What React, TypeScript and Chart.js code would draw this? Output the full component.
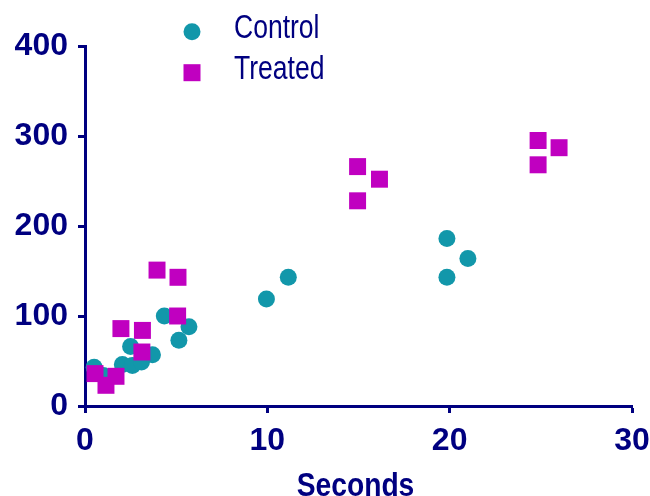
import React, { useEffect, useRef } from "react";
import { Chart, registerables } from "chart.js";

Chart.register(...registerables);

// ---- Data ----
const seriesNames = ["Control", "Treated"];

const controlX = [0.5, 1.0, 2.05, 2.5, 2.6, 3.1, 3.7, 4.35, 5.15, 5.7, 9.95, 11.15, 19.85, 19.85, 21.0];
const controlY = [43, 34, 46, 66, 45, 49, 57, 100, 73, 88, 119, 143, 186, 143, 164];

const treatedX = [0.55, 1.15, 1.7, 1.97, 3.15, 3.12, 3.95, 5.1, 5.08, 14.95, 16.15, 14.95, 24.85, 26.0, 24.85];
const treatedY = [36, 23, 33, 86, 84, 60, 151, 143, 100, 266, 252, 228, 295, 287, 268];

const xTicks = [0, 10, 20, 30];
const yTicks = [0, 100, 200, 300, 400];
const xTitle = "Seconds";

// ---- Styles ----
const NAVY = "#000080";
const TEAL = "#1297AA";
const MAGENTA = "#C000C0";
const SANS = "'Liberation Sans', Arial, sans-serif";

// Legend inside the plot + condensed x-axis title, both drawn as canvas text
const insetText = {
  id: "insetText",
  afterDatasetsDraw(chart: any) {
    const ctx = chart.ctx as CanvasRenderingContext2D;
    const markerX = 192;
    const markerY = [31.7, 72.7];
    const textX = 234;
    const textBase = [38.3, 79];
    ctx.save();
    chart.data.datasets.forEach((ds: any, i: number) => {
      ctx.fillStyle = ds.backgroundColor;
      if (ds.pointStyle === "rect") {
        ctx.fillRect(markerX - 8.5, markerY[i] - 8.5, 17, 17);
      } else {
        ctx.beginPath();
        ctx.arc(markerX, markerY[i], 8.5, 0, Math.PI * 2);
        ctx.fill();
      }
      ctx.save();
      ctx.translate(textX, textBase[i]);
      ctx.scale(0.78, 1);
      ctx.fillStyle = NAVY;
      ctx.font = `normal 34px ${SANS}`;
      ctx.textAlign = "left";
      ctx.textBaseline = "alphabetic";
      ctx.fillText(ds.label, 0, 0);
      ctx.restore();
    });

    // axis title
    const area = chart.chartArea;
    ctx.save();
    ctx.translate((area.left + area.right) / 2 - 3, 495.5);
    ctx.scale(0.83, 1);
    ctx.fillStyle = NAVY;
    ctx.font = `bold 34px ${SANS}`;
    ctx.textAlign = "center";
    ctx.textBaseline = "alphabetic";
    ctx.fillText(xTitle, 0, 0);
    ctx.restore();

    ctx.restore();
  },
};

export default function App() {
  const ref = useRef<HTMLCanvasElement | null>(null);

  useEffect(() => {
    if (!ref.current) return;
    const chart = new Chart(ref.current, {
      type: "scatter",
      data: {
        datasets: [
          {
            label: seriesNames[0],
            data: controlX.map((x, i) => ({ x, y: controlY[i] })),
            backgroundColor: TEAL,
            borderWidth: 0,
            pointStyle: "circle",
            pointRadius: 8.5,
            order: 2,
          },
          {
            label: seriesNames[1],
            data: treatedX.map((x, i) => ({ x, y: treatedY[i] })),
            backgroundColor: MAGENTA,
            borderWidth: 0,
            pointStyle: "rect",
            pointRadius: 12,
            order: 1,
          },
        ],
      },
      options: {
        animation: false,
        responsive: false,
        maintainAspectRatio: false,
        events: [],
        layout: { padding: { top: 46, right: 0, left: 0, bottom: 0 } },
        plugins: {
          legend: { display: false },
          tooltip: { enabled: false },
        },
        scales: {
          x: {
            type: "linear",
            min: 0,
            max: 30,
            afterFit: (s: any) => {
              s.height = 90;
              s.paddingLeft = 0;
              s.paddingRight = 18;
            },
            afterBuildTicks: (s: any) => {
              s.ticks = xTicks.map((v) => ({ value: v }));
            },
            ticks: {
              color: NAVY,
              font: { family: SANS, size: 32, weight: "bold", lineHeight: 1 },
              padding: 12,
              maxRotation: 0,
            },
            grid: {
              display: true,
              drawOnChartArea: false,
              drawTicks: true,
              tickLength: 7,
              tickWidth: 3,
              tickColor: NAVY,
            },
            border: { display: true, color: NAVY, width: 3 },
          },
          y: {
            type: "linear",
            min: 0,
            max: 400,
            afterFit: (s: any) => {
              s.width = 85;
            },
            afterBuildTicks: (s: any) => {
              s.ticks = yTicks.map((v) => ({ value: v }));
            },
            ticks: {
              color: NAVY,
              font: { family: SANS, size: 32, weight: "bold", lineHeight: 1 },
              padding: 10,
            },
            grid: {
              display: true,
              drawOnChartArea: false,
              drawTicks: true,
              tickLength: 7,
              tickWidth: 3,
              tickColor: NAVY,
            },
            border: { display: true, color: NAVY, width: 3 },
          },
        },
      },
      plugins: [insetText],
    });
    return () => chart.destroy();
  }, []);

  return (
    <div style={{ position: "absolute", left: 0, top: 0, width: 650, height: 496, background: "#fff" }}>
      <canvas ref={ref} width={650} height={496} style={{ display: "block" }} />
    </div>
  );
}
